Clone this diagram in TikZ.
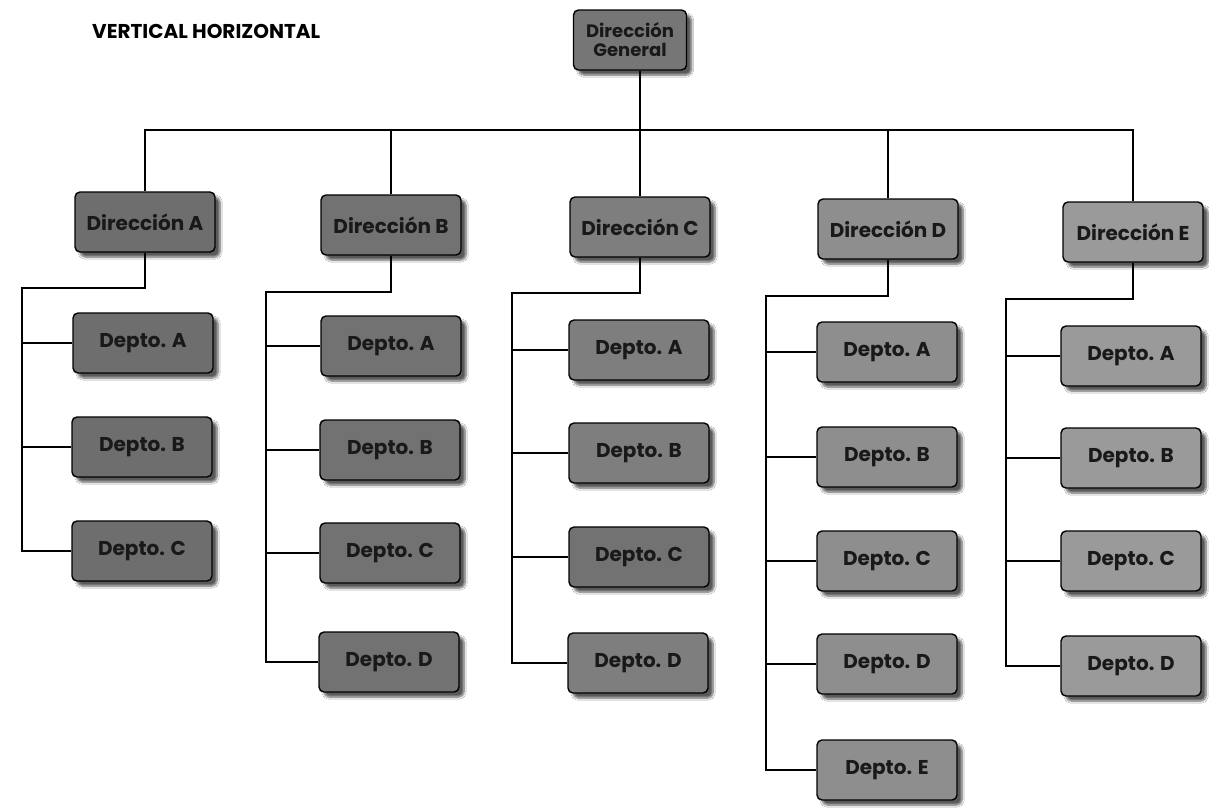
\documentclass[tikz,border=0pt]{standalone}
\usepackage{fontspec}
\setmainfont{Poppins}
\usetikzlibrary{shadows,shadows.blur}
\definecolor{cdg}{HTML}{767676}
\definecolor{ca}{HTML}{6E6E6E}
\definecolor{cb}{HTML}{727272}
\definecolor{cc}{HTML}{7E7E7E}
\definecolor{cd}{HTML}{8E8E8E}
\definecolor{ce}{HTML}{9A9A9A}
\tikzset{
  box/.style={draw=black, line width=1.4pt, rounded corners=5pt,
    minimum width=140pt, minimum height=60pt, inner sep=0pt,
    font=\bfseries\fontsize{20}{22}\selectfont, text=black!90,
    blur shadow={shadow xshift=5pt, shadow yshift=-5pt, shadow blur steps=6, shadow opacity=65}},
  conn/.style={line width=1.6pt, black}
}
\begin{document}
\begin{tikzpicture}[x=1pt,y=-1pt]
\path[use as bounding box, fill=white] (0,0) rectangle (1209,811);
\node[font=\bfseries\fontsize{20}{22}\selectfont, anchor=west, inner sep=0pt] (title) at (92,31) {VERTICAL HORIZONTAL};
% top
\node[box, fill=cdg, minimum width=113pt, align=center, font=\bfseries\fontsize{18}{19}\selectfont] (dg) at (630,40) {Dirección\\General};
\node[box, fill=ca] (dA) at (145,222) {Dirección A};
\node[box, fill=cb] (dB) at (391,225) {Dirección B};
\node[box, fill=cc] (dC) at (640,227) {Dirección C};
\node[box, fill=cd] (dD) at (888,229) {Dirección D};
\node[box, fill=ce] (dE) at (1133,232) {Dirección E};
\coordinate (bus) at (0,130);
\draw[conn] (dg.south -| dC.north) -- (dC.north);
\draw[conn] (dA.north) -- (dA.north |- bus) -- (dE.north |- bus) -- (dE.north);
\draw[conn] (dB.north) -- (dB.north |- bus);
\draw[conn] (dD.north) -- (dD.north |- bus);
% column A
\node[box, fill=ca] (aA) at (143,343) {Depto. A};
\node[box, fill=ca] (aB) at (142,447) {Depto. B};
\node[box, fill=ca] (aC) at (142,551) {Depto. C};
\coordinate (cA) at (22,288);
\draw[conn] (dA.south) |- (cA) -- (cA |- aC.west) -- (aC.west);
\draw[conn] (cA |- aA.west) -- (aA.west);
\draw[conn] (cA |- aB.west) -- (aB.west);
% column B
\node[box, fill=cb] (bA) at (391,346) {Depto. A};
\node[box, fill=cb] (bB) at (390,450) {Depto. B};
\node[box, fill=cb] (bC) at (390,553) {Depto. C};
\node[box, fill=cb] (bD) at (389,662) {Depto. D};
\coordinate (cB) at (266,292);
\draw[conn] (dB.south) |- (cB) -- (cB |- bD.west) -- (bD.west);
\draw[conn] (cB |- bA.west) -- (bA.west);
\draw[conn] (cB |- bB.west) -- (bB.west);
\draw[conn] (cB |- bC.west) -- (bC.west);
% column C
\node[box, fill=cc] (cAa) at (639,350) {Depto. A};
\node[box, fill=cc] (cBb) at (639,453) {Depto. B};
\node[box, fill=cb] (cCc) at (639,557) {Depto. C};
\node[box, fill=cc] (cDd) at (638,663) {Depto. D};
\coordinate (cC) at (512,293);
\draw[conn] (dC.south) |- (cC) -- (cC |- cDd.west) -- (cDd.west);
\draw[conn] (cC |- cAa.west) -- (cAa.west);
\draw[conn] (cC |- cBb.west) -- (cBb.west);
\draw[conn] (cC |- cCc.west) -- (cCc.west);
% column D
\node[box, fill=cd] (dAa) at (887,352) {Depto. A};
\node[box, fill=cd] (dBb) at (887,457) {Depto. B};
\node[box, fill=cd] (dCc) at (887,561) {Depto. C};
\node[box, fill=cd] (dDd) at (887,664) {Depto. D};
\node[box, fill=cd] (dEe) at (887,770) {Depto. E};
\coordinate (cD) at (766,296);
\draw[conn] (dD.south) |- (cD) -- (cD |- dEe.west) -- (dEe.west);
\draw[conn] (cD |- dAa.west) -- (dAa.west);
\draw[conn] (cD |- dBb.west) -- (dBb.west);
\draw[conn] (cD |- dCc.west) -- (dCc.west);
\draw[conn] (cD |- dDd.west) -- (dDd.west);
% column E
\node[box, fill=ce] (eA) at (1131,356) {Depto. A};
\node[box, fill=ce] (eB) at (1131,458) {Depto. B};
\node[box, fill=ce] (eC) at (1131,561) {Depto. C};
\node[box, fill=ce] (eD) at (1131,666) {Depto. D};
\coordinate (cE) at (1006,299);
\draw[conn] (dE.south) |- (cE) -- (cE |- eD.west) -- (eD.west);
\draw[conn] (cE |- eA.west) -- (eA.west);
\draw[conn] (cE |- eB.west) -- (eB.west);
\draw[conn] (cE |- eC.west) -- (eC.west);
\end{tikzpicture}
\end{document}
